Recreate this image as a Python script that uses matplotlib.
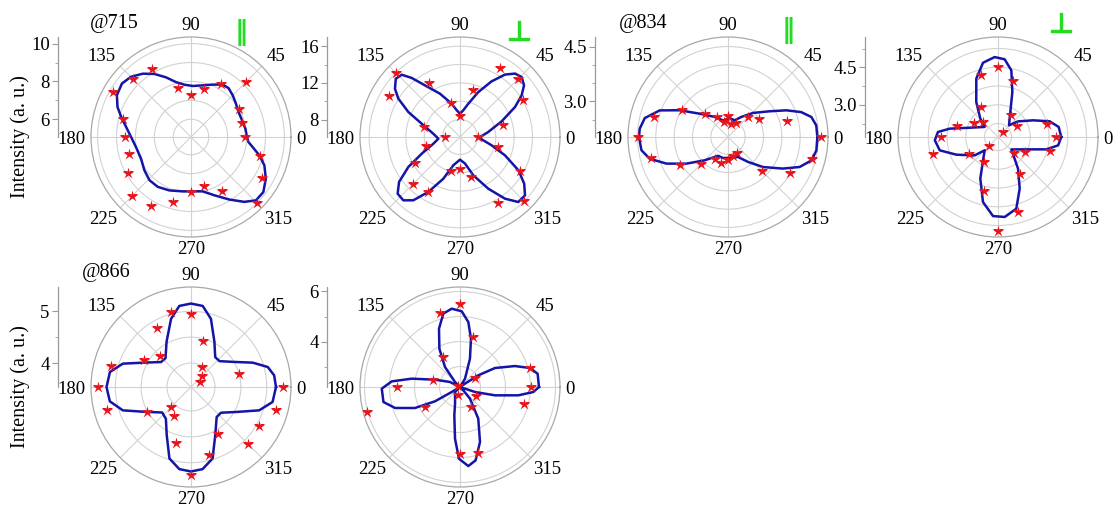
import numpy as np
import matplotlib.pyplot as plt
import matplotlib.patheffects as pe
from matplotlib.ticker import MultipleLocator, FormatStrFormatter

plt.rcParams['font.family'] = ['Liberation Serif', 'DejaVu Serif']

W, H = 1115, 513
R = 100  # polar radius in pixels

# star angles (deg) shared by most panels
star_ang = [0, 15, 30, 45, 60, 75, 90, 105, 120, 135, 150, 165,
            180, 195, 210, 225, 240, 255, 270, 285, 300, 315, 330, 345]

# @715, parallel
stars1 = [7.94, 7.83, 7.98, 9.17, 8.27, 7.67, 7.30, 7.75, 9.20, 9.40, 9.84, 8.79,
          8.53, 8.45, 8.92, 9.51, 9.28, 8.64, 7.97, 7.75, 8.36, 10.01, 9.40, 8.85]
fit_ang1 = [0, 8.7, 18.1, 27.7, 36.5, 45, 52.4, 58.8, 67.5, 77.3, 88, 97.3, 105.3, 112.7,
            120.2, 127.3, 135, 142.3, 150.6, 157.8, 164, 171.3, 180, 190.3, 203.4, 215.5,
            226.1, 236.3, 247.9, 261.3, 271.8, 282.1, 291.8, 301.5, 309.4, 315.7, 322.7,
            330.9, 338.9, 345, 350.8, 355]
fit1 = [8.02, 7.97, 7.90, 7.90, 8.02, 8.18, 8.32, 8.30, 8.06, 7.86, 7.76, 7.85, 8.07, 8.48,
        8.92, 9.27, 9.56, 9.68, 9.56, 9.26, 8.90, 8.53, 8.23, 8.02, 7.94, 8.09, 8.23, 8.23,
        8.11, 7.97, 7.93, 8.00, 8.38, 8.94, 9.50, 9.86, 9.87, 9.59, 9.22, 8.80, 8.36, 8.11]

# @715, perpendicular
stars2 = [8.10, 10.95, 14.09, 15.02, 14.82, 11.37, 8.39, 9.98, 12.86, 15.99, 14.98, 10.12,
          7.74, 9.89, 11.80, 13.37, 12.99, 9.98, 9.55, 10.61, 14.35, 15.99, 13.62, 10.38]
fit_ang2 = [0.4, 10, 20.6, 28.6, 34, 38.9, 44.2, 49, 54.2, 60.4, 67.8, 76, 82.9, 90, 97, 104,
            114.8, 124.1, 129.3, 133.1, 137.8, 143.4, 148.1, 154.2, 160.8, 172.9, 184.4, 194,
            203.5, 210.1, 216.4, 222.3, 228.2, 233.6, 240.1, 248.2, 256.8, 270, 280.6, 289.2,
            298.7, 306.1, 311.9, 318.1, 324, 330.3, 337.8, 345.3, 353.9]
fit2 = [8.32, 9.22, 10.95, 12.93, 14.20, 15.07, 15.47, 15.26, 14.49, 13.08, 11.40, 9.84, 9.04,
        8.64, 9.04, 9.84, 11.30, 12.89, 14.42, 15.40, 15.55, 14.93, 14.02, 12.35, 10.53, 9.04,
        8.46, 9.08, 10.64, 12.60, 14.35, 15.29, 15.36, 14.67, 13.00, 11.00, 9.26, 8.57, 9.04,
        10.53, 12.53, 14.42, 15.62, 15.62, 14.75, 13.44, 11.40, 9.66, 8.46]

# @834, parallel
stars3 = [4.58, 3.70, 3.02, 2.80, 2.48, 2.39, 2.59, 2.45, 2.65, 2.92, 3.49, 4.12,
          4.49, 4.22, 3.55, 3.08, 2.73, 2.76, 2.65, 2.56, 2.54, 3.34, 3.97, 4.40]
fit_ang3 = [0, 7.5, 13.5, 18.8, 24.6, 31.6, 43.8, 56.3, 68.2, 85, 106.7, 123.7, 140.5, 151.1,
            158.7, 167.2, 174.6, 180, 188.7, 195.5, 203.4, 212.6, 225, 242.2, 256.6, 274.5,
            296.6, 308.7, 319.4, 330.1, 337.3, 344.4, 351.4]
fit3 = [4.47, 4.46, 4.37, 4.14, 3.78, 3.37, 2.98, 2.69, 2.52, 2.55, 2.50, 2.69, 3.03, 3.54,
        4.03, 4.36, 4.45, 4.46, 4.42, 4.25, 3.86, 3.38, 2.93, 2.61, 2.62, 2.60, 2.64, 2.90,
        3.29, 3.76, 4.15, 4.40, 4.47]

# @834, perpendicular
stars4 = [4.04, 3.72, 2.58, 2.02, 2.73, 4.01, 4.51, 4.27, 3.10, 2.56, 2.80, 3.42,
          4.00, 4.40, 3.06, 2.22, 2.86, 3.93, 5.48, 4.83, 3.43, 2.59, 2.94, 3.86]
fit_ang4 = [0, 9.4, 16.9, 25.5, 38.1, 46.7, 63.7, 72.3, 78.7, 85.1, 92.4, 101.4, 110.4, 121.8,
            133.9, 143.1, 161.8, 170.2, 175.2, 183, 192.9, 203, 218.2, 225, 237.3, 247, 257,
            266.4, 274.8, 284.3, 292.8, 302.3, 317.2, 336.5, 345.7, 352.1]
fit4 = [4.24, 4.17, 3.87, 3.26, 2.72, 2.35, 2.82, 3.60, 4.43, 4.83, 4.91, 4.74, 4.20, 3.36,
        2.73, 2.38, 2.90, 3.67, 4.12, 4.24, 4.10, 3.52, 2.90, 2.46, 2.82, 3.52, 4.38, 4.88,
        4.92, 4.67, 3.95, 3.21, 2.44, 2.95, 3.71, 4.14]

# @866, parallel
stars5 = [5.31, 4.50, 3.74, 3.85, 3.98, 4.45, 4.95, 5.03, 4.85, 4.39, 4.58, 5.14,
          5.34, 5.22, 4.51, 4.09, 4.18, 4.65, 5.23, 4.89, 4.58, 5.10, 5.05, 5.24]
fit_ang5 = [0, 8, 14.6, 21.5, 31, 42.2, 51, 62.6, 73.7, 81.8, 90, 98.2, 106.3, 118.4, 131.5,
            140.2, 151.6, 161.1, 169.5, 180, 190, 198.9, 209, 221.5, 231.7, 243.3, 253.2,
            261.9, 270, 278, 286.8, 296.7, 310.5, 319.4, 330.9, 341.1, 349.6]
fit5 = [5.18, 5.16, 5.07, 4.82, 4.48, 4.28, 4.28, 4.52, 4.91, 5.12, 5.15, 5.12, 4.91, 4.53,
        4.28, 4.29, 4.53, 4.93, 5.13, 5.17, 5.13, 4.93, 4.53, 4.28, 4.32, 4.58, 4.98, 5.14,
        5.17, 5.14, 4.98, 4.58, 4.30, 4.30, 4.53, 4.93, 5.14]

# @866, perpendicular
star_ang6 = [0, 15, 30, 75, 90, 105, 120, 150, 165, 180, 195, 210, 255, 270, 285, 300, 330, 345]
stars6 = [5.02, 5.06, 2.87, 4.26, 5.49, 5.23, 3.57, 2.28, 3.28, 4.69, 6.05, 3.79,
          2.52, 4.85, 4.90, 3.09, 2.90, 4.83]
fit_ang6 = [0, 9.7, 15.2, 20.9, 28.5, 32.5, 34, 36, 55, 59, 70.6, 77.2, 82.7, 88.7, 96.1,
            102.8, 109.8, 118.3, 126.9, 135, 139, 151, 153.4, 163.7, 170.2, 175.3, 181.2,
            191.1, 197.9, 205, 209.8, 211, 214, 223, 225, 253.3, 258.7, 264.5, 269.2, 276,
            282, 290, 300, 310.6, 315, 318, 338, 341.6, 346.6, 351.9, 356.1]
fit6 = [5.34, 5.33, 5.08, 4.53, 3.77, 3.05, 2.42, 2.18, 2.18, 2.57, 3.38, 4.16, 4.80, 5.21,
        5.33, 5.19, 4.66, 3.92, 3.18, 2.46, 2.18, 2.18, 2.63, 3.22, 4.14, 4.92, 5.31, 5.30,
        4.91, 4.17, 3.33, 2.57, 2.18, 2.18, 2.46, 2.87, 3.34, 4.26, 5.05, 5.36, 5.18, 4.52,
        3.64, 2.79, 2.37, 2.18, 2.18, 2.81, 3.62, 4.54, 5.12]

blue = '#1414a8'
red = '#e8141c'
green = '#22dd22'

fig = plt.figure(figsize=(W / 100, H / 100), dpi=100)


def panel(cx, cy, rlim, grid_r, major, minor, fmt, s_ang, s_val, f_ang, f_val):
    ax = fig.add_axes([(cx - R) / W, (H - cy - R) / H, 2 * R / W, 2 * R / H],
                      projection='polar')
    th = np.deg2rad(f_ang + [f_ang[0] + 360])
    ax.plot(th, f_val + [f_val[0]], color=blue, lw=1.8, zorder=3)
    ax.plot(np.deg2rad(s_ang), s_val, '*', color=red, ms=9, mec='none', zorder=4)
    ax.set_rlim(*rlim)
    ax.set_rticks(grid_r)
    ax.set_yticklabels([])
    ax.set_xticks(np.deg2rad(np.arange(0, 360, 45)))
    ax.set_xticklabels([])
    ax.grid(color='#d2d2d2', lw=0.8)
    ax.spines['polar'].set_color('#a8a8a8')
    ax.spines['polar'].set_linewidth(0.9)
    ax.tick_params(length=0)
    # angle labels
    for a in range(0, 360, 45):
        c, s = np.cos(np.deg2rad(a)), np.sin(np.deg2rad(a))
        ha = 'left' if c > 0.1 else ('right' if c < -0.1 else 'center')
        if s > 0.1:
            va, k = 'baseline', 1.07
        elif s < -0.1:
            va, k = 'top', 1.04
        else:
            va, k = 'center_baseline', 1.05
        ax.text(0.5 + 0.5 * k * c, 0.5 + 0.5 * k * s, str(a), transform=ax.transAxes,
                ha=ha, va=va, fontsize=13.5)
    # radial scale drawn left of the circle
    sx = fig.add_axes([(cx - 133) / W, (H - cy) / H, 0.0001, R / H])
    sx.set_ylim(*rlim)
    for sp in ['top', 'right', 'bottom']:
        sx.spines[sp].set_visible(False)
    sx.spines['left'].set_color('#999999')
    sx.spines['left'].set_linewidth(0.9)
    sx.set_xticks([])
    sx.set_yticks(major)
    sx.yaxis.set_minor_locator(MultipleLocator(minor))
    sx.yaxis.set_major_formatter(FormatStrFormatter(fmt))
    sx.tick_params(axis='y', which='major', length=4, color='#999999', pad=2, labelsize=13.5)
    sx.tick_params(axis='y', which='minor', length=2, color='#999999')
    sx.patch.set_visible(False)
    return ax


panel(191, 137, (5.06, 10.35), [6, 7, 8, 9, 10], [6, 8, 10], 1, '%d',
      star_ang, stars1, fit_ang1, fit1)
panel(460, 137, (6.1, 17.0), [8, 10, 12, 14, 16], [8, 12, 16], 2, '%d',
      star_ang, stars2, fit_ang2, fit2)
panel(728, 137, (2.03, 4.76), [2.5, 3.0, 3.5, 4.0, 4.5], [3.0, 4.5], 0.5, '%.1f',
      star_ang, stars3, fit_ang3, fit3)
panel(998, 137, (1.71, 5.71), [2.25, 3.0, 3.75, 4.5, 5.25], [3.0, 4.5], 0.75, '%.1f',
      star_ang, stars4, fit_ang4, fit4)
panel(191, 387, (3.536, 5.47), [4.0, 4.5, 5.0], [4, 5], 0.5, '%d',
      star_ang, stars5, fit_ang5, fit5)
panel(460, 387, (2.18, 6.18), [3, 4, 5, 6], [4, 6], 1, '%d',
      star_ang6, stars6, fit_ang6, fit6)

# labels
for cy in (137, 387):
    fig.text(20 / W, 1 - cy / H, 'Intensity (a. u.)', rotation=90,
             ha='center', va='center', fontsize=14.5)
fig.text(114 / W, 1 - 28 / H, '@715', ha='center', va='baseline', fontsize=14.5)
fig.text(643 / W, 1 - 28 / H, '@834', ha='center', va='baseline', fontsize=14.5)
fig.text(106 / W, 1 - 277 / H, '@866', ha='center', va='baseline', fontsize=14.5)

# polarisation marks
for x, y in [(241.5, 32), (788, 30)]:
    fig.text(x / W, 1 - y / H, '\u2016', color=green, family='DejaVu Sans',
             fontweight='bold', ha='center', va='center', fontsize=19)
thick = [pe.withStroke(linewidth=1.0, foreground=green)]
for x, y in [(519, 32), (1061, 24)]:
    fig.text(x / W, 1 - y / H, '\u22a5', color=green, family='DejaVu Sans',
             ha='center', va='center', fontsize=20, path_effects=thick)

fig.savefig('out.png', dpi=100)
